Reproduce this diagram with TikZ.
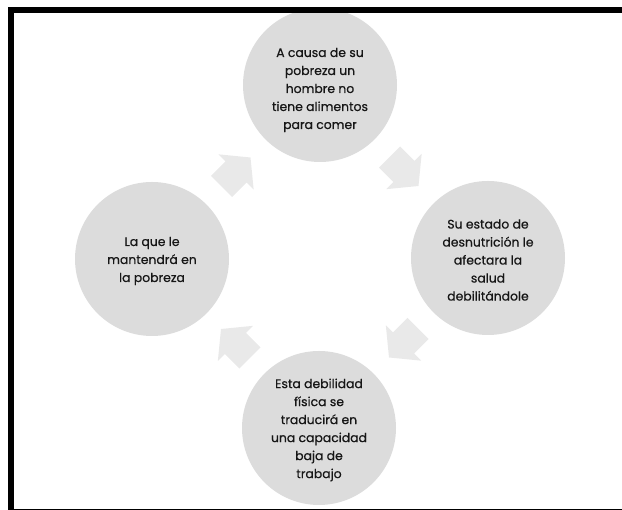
\documentclass[tikz,border=0pt]{standalone}
\usepackage{fontspec}
\setmainfont{Poppins}[FakeBold=0.6]
\usetikzlibrary{calc}
\definecolor{circfill}{HTML}{DCDCDC}
\definecolor{arrfill}{HTML}{E9E9E9}
\definecolor{txt}{HTML}{161616}
\tikzset{
  bubble/.style={circle, fill=circfill, minimum size=154pt, inner sep=0pt},
  bubbletext/.style={align=center, text=txt, inner sep=0pt,
    font=\fontsize{12.4}{18}\selectfont},
  blockarrow/.pic={
    \fill[arrfill] (-20.5,-15) -- (0,-15) -- (0,-25) -- (20.5,0) -- (0,25) -- (0,15) -- (-20.5,15) -- cycle;
  }
}
\begin{document}
\begin{tikzpicture}[x=1pt,y=1pt]
\useasboundingbox (0,0) rectangle (622,510);
\node[bubble] (top) at (320,425) {};
\node[bubble] (right) at (488,252) {};
\node[bubble] (bottom) at (319,82) {};
\node[bubble] (left) at (152,251) {};
\node[bubbletext] (toptext) at ([yshift=-5pt]top.center) {A causa de su\\pobreza un\\hombre no\\tiene alimentos\\para comer};
\node[bubbletext] (righttext) at ([yshift=-2pt]right.center) {Su estado de\\desnutrición le\\afectara la\\salud\\debilitándole};
\node[bubbletext] (bottomtext) at ([yshift=-2pt]bottom.center) {Esta debilidad\\física se\\traducirá en\\una capacidad\\baja de\\trabajo};
\node[bubbletext] (lefttext) at ([yshift=-2pt]left.center) {La que le\\mantendrá en\\la pobreza};
\pic[rotate=-45] at ($(top)!0.5!(right)$) {blockarrow};
\pic[rotate=-135] at ($(right)!0.5!(bottom)$) {blockarrow};
\pic[rotate=135] at ($(bottom)!0.5!(left)$) {blockarrow};
\pic[rotate=45] at ($(left)!0.5!(top)$) {blockarrow};
% frame
\fill[black] (8,497) rectangle (622,503);
\fill[black] (8,0) rectangle (14,503);
\draw[black, line width=1pt] (8,0.5) -- (622,0.5);
\end{tikzpicture}
\end{document}
